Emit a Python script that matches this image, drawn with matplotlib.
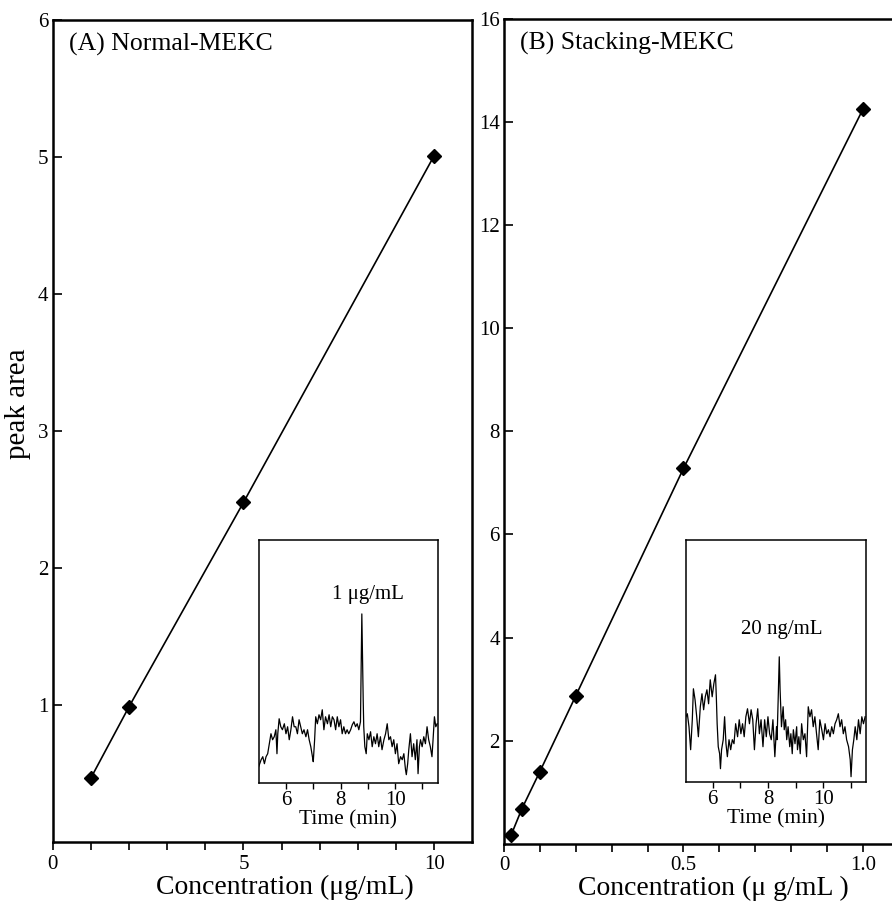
import matplotlib
matplotlib.use("Agg")
import matplotlib.pyplot as plt

plt.rcParams["font.family"] = ["Liberation Serif", "DejaVu Serif"]

# ── 1. Data ───────────────────────────────────────────────────────────────────
conc_a = [1, 2, 5, 10]
area_a = [0.47, 0.99, 2.48, 5.01]

conc_b = [0.02, 0.05, 0.1, 0.2, 0.5, 1.0]
area_b = [0.17, 0.68, 1.40, 2.87, 7.28, 14.25]

# inset traces (signal in arbitrary units)
time_a = [5.00, 5.09, 5.15, 5.21, 5.27, 5.33, 5.39, 5.45, 5.51, 5.57, 5.63, 5.67,
          5.70, 5.75, 5.81, 5.87, 5.94, 6.00, 6.06, 6.12, 6.18, 6.24, 6.30, 6.36,
          6.42, 6.48, 6.54, 6.60, 6.66, 6.73, 6.79, 6.85, 6.91, 6.97, 7.00, 7.05,
          7.09, 7.15, 7.21, 7.27, 7.33, 7.39, 7.45, 7.52, 7.58, 7.64, 7.70, 7.76,
          7.82, 7.88, 7.94, 8.00, 8.06, 8.12, 8.18, 8.24, 8.30, 8.37, 8.43, 8.49,
          8.55, 8.61, 8.67, 8.73, 8.78, 8.83, 8.85, 8.89, 8.94, 8.98, 9.04, 9.10,
          9.16, 9.22, 9.28, 9.34, 9.40, 9.46, 9.52, 9.59, 9.65, 9.71, 9.77, 9.83,
          9.89, 9.95, 10.01, 10.07, 10.13, 10.20, 10.26, 10.32, 10.38, 10.41, 10.46,
          10.50, 10.56, 10.62, 10.68, 10.74, 10.80, 10.84, 10.89, 10.93, 10.99,
          11.05, 11.11, 11.17, 11.23, 11.29, 11.35, 11.39, 11.44, 11.49, 11.54]
signal_a = [16, 23, 26, 19, 26, 29, 39, 49, 43, 46, 53, 29,
            49, 64, 56, 53, 59, 49, 56, 43, 53, 66, 56, 56,
            49, 63, 56, 49, 53, 46, 53, 43, 36, 26, 21, 43,
            66, 59, 68, 63, 73, 53, 66, 59, 68, 56, 66, 63,
            53, 66, 56, 63, 49, 56, 49, 53, 49, 53, 58, 61,
            56, 59, 53, 61, 169, 83, 56, 36, 29, 49, 43, 51,
            36, 46, 39, 49, 36, 46, 33, 43, 49, 59, 43, 46,
            36, 43, 29, 39, 19, 26, 23, 29, 13, 8, 19,
            33, 49, 26, 39, 23, 43, 9, 36, 43, 36,
            46, 39, 56, 43, 36, 26, 43, 66, 56, 59]

time_b = [5.03, 5.08, 5.14, 5.20, 5.26, 5.30, 5.36, 5.42, 5.48, 5.55, 5.61, 5.67,
          5.73, 5.79, 5.85, 5.91, 5.98, 6.04, 6.10, 6.13, 6.16, 6.20, 6.25, 6.28,
          6.32, 6.38, 6.43, 6.48, 6.53, 6.59, 6.65, 6.71, 6.77, 6.83, 6.90, 6.96,
          7.02, 7.08, 7.14, 7.20, 7.26, 7.33, 7.39, 7.45, 7.51, 7.57, 7.63, 7.69,
          7.75, 7.82, 7.88, 7.94, 8.00, 8.06, 8.12, 8.18, 8.25, 8.31, 8.33, 8.37,
          8.41, 8.44, 8.49, 8.55, 8.59, 8.64, 8.68, 8.73, 8.79, 8.83, 8.88, 8.92,
          8.98, 9.04, 9.07, 9.12, 9.17, 9.22, 9.28, 9.34, 9.40, 9.46, 9.52, 9.58,
          9.64, 9.70, 9.76, 9.82, 9.88, 9.95, 10.01, 10.07, 10.13, 10.19, 10.25,
          10.31, 10.37, 10.43, 10.49, 10.55, 10.61, 10.67, 10.73, 10.79, 10.85,
          10.92, 10.98, 11.01, 11.06, 11.11, 11.16, 11.22, 11.28, 11.34, 11.40,
          11.46, 11.52]
signal_b = [65, 68, 55, 32, 62, 93, 82, 65, 45, 75, 88, 72,
            85, 92, 78, 102, 85, 98, 107, 85, 58, 35, 28, 13,
            32, 42, 65, 38, 25, 42, 32, 42, 38, 58, 45, 62,
            48, 58, 45, 65, 73, 58, 72, 62, 32, 58, 73, 48,
            62, 35, 62, 45, 65, 48, 42, 62, 25, 55, 42, 82,
            125, 92, 55, 75, 52, 62, 42, 55, 35, 48, 28, 52,
            38, 55, 32, 45, 28, 58, 42, 48, 25, 75, 65, 72,
            55, 65, 48, 32, 62, 52, 42, 58, 48, 52, 45,
            55, 48, 58, 62, 68, 55, 62, 48, 55, 42,
            35, 22, 5, 32, 42, 55, 42, 62, 48, 65,
            58, 65]

# ── 2. Figure + main axes ─────────────────────────────────────────────────────
fig = plt.figure(figsize=(8.92, 9.02), dpi=100)
ax1 = fig.add_axes([0.0591, 0.066, 0.4704, 0.9119])
ax2 = fig.add_axes([0.565, 0.0646, 0.435, 0.9143])

for ax in (ax1, ax2):
    for sp in ax.spines.values():
        sp.set_linewidth(1.8)
    ax.tick_params(axis="x", which="both", direction="out", length=6, width=1.2,
                   pad=3, labelsize=15)
    ax.tick_params(axis="y", which="both", direction="in", length=6.5, width=1.2,
                   pad=3, labelsize=15)
ax2.spines["right"].set_visible(False)

# (A) Normal-MEKC
ax1.plot(conc_a, area_a, "-D", color="black", lw=1.2, ms=7)
ax1.set_xlim(0, 11)
ax1.set_ylim(0, 6)
ax1.set_xticks([0, 5, 10])
ax1.set_xticks([1, 2, 3, 4, 6, 7, 8, 9], minor=True)
ax1.set_yticks([1, 2, 3, 4, 5, 6])
ax1.set_xlabel("Concentration (μg/mL)", fontsize=20)
ax1.xaxis.set_label_coords(0.554, -0.0395)
ax1.set_ylabel("peak area", fontsize=21)
ax1.yaxis.set_label_coords(-0.052, 0.533)
ax1.text(0.039, 0.984, "(A) Normal-MEKC", transform=ax1.transAxes,
         fontsize=18.5, va="top", ha="left")

# (B) Stacking-MEKC
ax2.plot(conc_b, area_b, "-D", color="black", lw=1.2, ms=7)
ax2.set_xlim(0, 1.081)
ax2.set_ylim(0, 16)
ax2.set_xticks([0, 0.5, 1.0])
ax2.set_xticklabels(["0", "0.5", "1.0"])
ax2.set_xticks([0.1, 0.2, 0.3, 0.4, 0.6, 0.7, 0.8, 0.9], minor=True)
ax2.set_yticks([2, 4, 6, 8, 10, 12, 14, 16])
ax2.set_xlabel("Concentration (μ g/mL )", fontsize=20)
ax2.xaxis.set_label_coords(0.539, -0.0395)
ax2.text(0.041, 0.984, "(B) Stacking-MEKC", transform=ax2.transAxes,
         fontsize=18.5, va="top", ha="left")

# ── 3. Insets ─────────────────────────────────────────────────────────────────
ins_a = fig.add_axes([0.290, 0.1323, 0.201, 0.269])
ins_b = fig.add_axes([0.769, 0.1334, 0.2018, 0.268])

for ins in (ins_a, ins_b):
    for sp in ins.spines.values():
        sp.set_linewidth(1.1)
    ins.set_xticks([6, 8, 10])
    ins.set_xticks([7, 9, 11], minor=True)
    ins.set_yticks([])
    ins.tick_params(axis="x", which="both", direction="out", length=4, width=1,
                    pad=2, labelsize=15)
    ins.set_xlabel("Time (min)", fontsize=15.5, labelpad=0)

ins_a.plot(time_a, signal_a, color="black", lw=0.9)
ins_a.set_xlim(5.0, 11.57)
ins_a.set_ylim(0, 243)
ins_a.text(8.99, 188, "1 μg/mL", fontsize=15, ha="center", va="center")

ins_b.plot(time_b, signal_b, color="black", lw=0.9)
ins_b.set_xlim(5.03, 11.55)
ins_b.set_ylim(0, 242)
ins_b.text(8.49, 152, "20 ng/mL", fontsize=15, ha="center", va="center")

plt.savefig("out.png", dpi=100)
